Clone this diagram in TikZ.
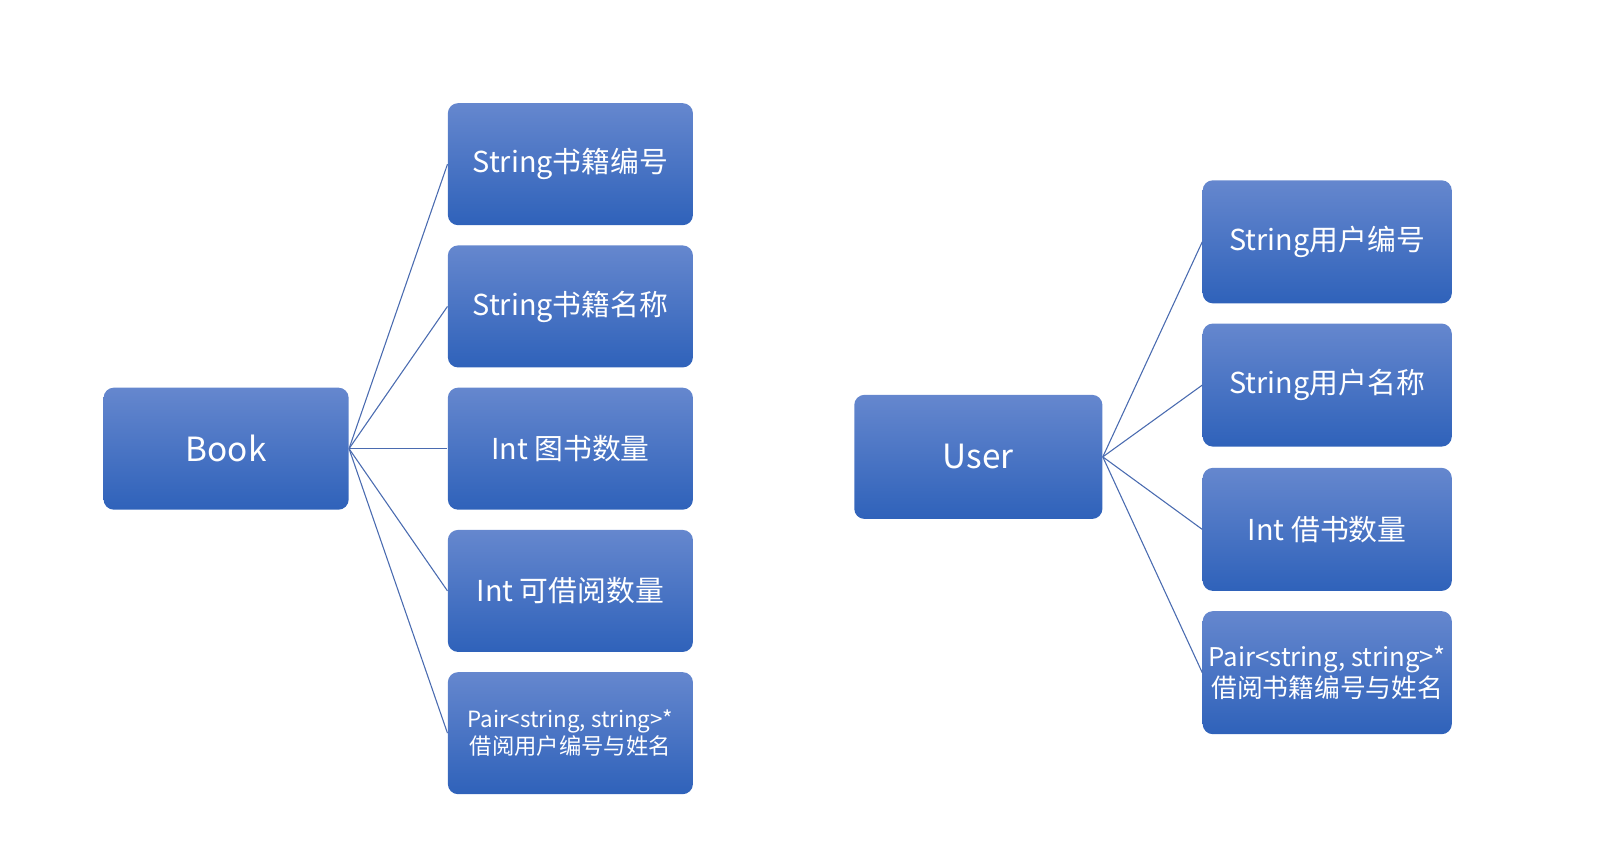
\documentclass[tikz,border=0pt]{standalone}
\usepackage{fontspec}
\setmainfont{Noto Sans CJK SC}
\usepackage{tikz}
\usetikzlibrary{positioning}
\definecolor{boxtop}{HTML}{6587CE}
\definecolor{boxbot}{HTML}{2F62BA}
\definecolor{linkcol}{HTML}{4A6BB0}
\tikzset{node distance=0.38cm,
  field/.style={rectangle, rounded corners=0.2cm, top color=boxtop, bottom color=boxbot,
    text=white, align=center, minimum width=4.78cm, minimum height=2.38cm, inner sep=0pt,
    font=\fontsize{16}{19}\selectfont},
  entity/.style={field, font=\fontsize{18.5}{22}\selectfont},
  link/.style={draw=linkcol, line width=0.6pt}}

\begin{document}
\begin{tikzpicture}
             \useasboundingbox (0,0) rectangle (31.36,-16.7);

             \node (Book) [entity] at (4.41,-8.75) {Book};

             \node (bnum) [field, right=1.92cm of Book] {Int 图书数量};
             \node (bname) [field, above=of bnum] {String书籍名称};
             \node (bid) [field, above=of bname] {String书籍编号};
             \node (bavail) [field, below=of bnum] {Int 可借阅数量};
             \node (bpair) [field, below=of bavail, font=\fontsize{12.4}{14.8}\selectfont]
                {Pair<string, string>*\\借阅用户编号与姓名};

             \node (User) [entity, minimum width=4.84cm, minimum height=2.42cm] at (19.08,-8.91) {User};

             \node (uname) [field, minimum width=4.86cm, minimum height=2.4cm, right=1.94cm of User, yshift=1.4cm] {String用户名称};
             \node (uid) [field, minimum width=4.86cm, minimum height=2.4cm, above=of uname] {String用户编号};
             \node (unum) [field, minimum width=4.86cm, minimum height=2.4cm, below=0.4cm of uname] {Int 借书数量};
             \node (upair) [field, minimum width=4.86cm, minimum height=2.4cm, below=of unum,
                font=\fontsize{14.3}{17}\selectfont]
                {Pair<string, string>*\\借阅书籍编号与姓名};

             \foreach \b in {bid, bname, bnum, bavail, bpair}
                \draw [link] (Book.east) -- (\b.west);

             \foreach \u in {uid, uname, unum, upair}
                \draw [link] (User.east) -- (\u.west);
\end{tikzpicture}
\end{document}
